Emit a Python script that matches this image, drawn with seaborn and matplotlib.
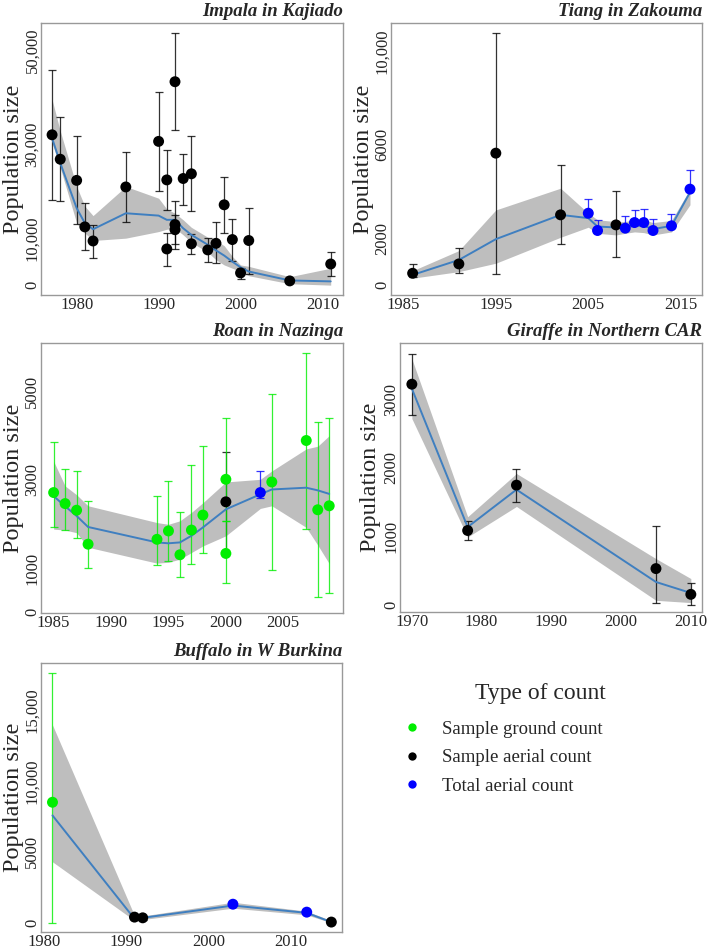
import numpy as np
import pandas as pd
import seaborn as sns
import matplotlib
matplotlib.use("Agg")
import matplotlib.pyplot as plt
from matplotlib.lines import Line2D

# ---- data ----
G, A, T = "Sample ground count", "Sample aerial count", "Total aerial count"

imp_year = [1977, 1978, 1980, 1981, 1982, 1986, 1990, 1991, 1991, 1992, 1992, 1992,
            1993, 1994, 1994, 1996, 1997, 1998, 1999, 2000, 2001, 2006, 2011]
imp_est = [32000, 26800, 22300, 12400, 9400, 20900, 30600, 22400, 7700, 43300, 12900, 11800,
           22700, 23700, 8800, 7500, 8900, 17100, 9700, 2600, 9500, 900, 4500]
imp_lo = [18200, 18000, 13100, 7400, 5800, 13400, 20100, 16100, 4100, 33100, 8700, 7700,
          17100, 15800, 6700, 4900, 4700, 11100, 5200, 1300, 2400, 600, 2000]
imp_hi = [45900, 35800, 31700, 17500, 12900, 28300, 41100, 28700, 11200, 53600, 18000, 15000,
          28000, 31700, 10900, 10000, 13400, 23000, 14100, 3600, 16400, 1200, 7000]
imp_type = [A] * 23
imp_fit_year = [1977, 1978, 1980, 1981, 1982, 1986, 1990, 1991, 1992, 1993, 1994, 1996,
                1997, 1998, 1999, 2000, 2001, 2006, 2011]
imp_fit = [31300, 26000, 16400, 13200, 11900, 15300, 14800, 13900, 13900, 12100, 10700, 8600,
           7400, 6300, 5000, 3800, 2900, 1000, 800]
imp_fit_lo = [30300, 25000, 13200, 11100, 9500, 10000, 11400, 11900, 12100, 10700, 9100, 7000,
              5400, 4300, 3600, 2900, 2000, 300, 0]
imp_fit_hi = [39500, 32800, 21000, 16800, 14800, 21000, 18500, 16200, 15300, 13900, 12300, 10200,
              9500, 8400, 6100, 4300, 4000, 1800, 3600]

tia_year = [1986, 1991, 1995, 2002, 2005, 2006, 2008, 2009, 2010, 2011, 2012, 2014, 2016]
tia_est = [500, 900, 5640, 3000, 3070, 2330, 2570, 2430, 2670, 2670, 2330, 2530, 4100]
tia_lo = [330, 530, 470, 1760, 3070, 2330, 1190, 2430, 2670, 2670, 2330, 2530, 4100]
tia_hi = [890, 1570, 10790, 5140, 3670, 2790, 4000, 2930, 3210, 3240, 2810, 3030, 4900]
tia_type = [A, A, A, A, T, T, A, T, T, T, T, T, T]
tia_fit_year = tia_year
tia_fit = [430, 1070, 1960, 3000, 2860, 2500, 2460, 2460, 2530, 2530, 2390, 2530, 3960]
tia_fit_lo = [290, 570, 930, 2040, 2470, 2210, 2140, 2210, 2270, 2240, 2140, 2270, 3430]
tia_fit_hi = [610, 1470, 3210, 4140, 3070, 2790, 2710, 2710, 2810, 2790, 2670, 2760, 4100]

roa_year = [1985, 1986, 1987, 1988, 1994, 1995, 1996, 1997, 1998, 2000, 2000, 2000,
            2003, 2004, 2007, 2008, 2009]
roa_est = [2710, 2460, 2310, 1540, 1650, 1840, 1300, 1860, 2200, 3010, 1330, 2500,
           2710, 2950, 3890, 2320, 2410]
roa_lo = [1930, 1860, 1680, 990, 1070, 1170, 790, 1080, 1330, 2070, 650, 1350,
          2580, 960, 1890, 340, 430]
roa_hi = [3850, 3250, 3200, 2520, 2630, 2970, 2280, 3330, 3760, 4410, 2070, 3630,
          3210, 4940, 5880, 4300, 4400]
roa_type = [G] * 11 + [A, T, G, G, G, G]
roa_fit_year = [1985, 1986, 1987, 1988, 1994, 1995, 1996, 1997, 1998, 2000, 2003, 2004,
                2007, 2008, 2009]
roa_fit = [2630, 2400, 2180, 1930, 1580, 1560, 1580, 1730, 1920, 2330, 2670, 2780,
           2820, 2760, 2680]
roa_fit_lo = [1880, 1860, 1800, 1470, 1110, 1130, 1200, 1350, 1500, 1730, 2350, 2410,
              1920, 1520, 1100]
roa_fit_hi = [3420, 2860, 2660, 2410, 2030, 1990, 2070, 2260, 2480, 2950, 3010, 3200,
              3700, 3760, 4000]

gir_year = [1970, 1978, 1985, 2005, 2010]
gir_est = [3220, 1090, 1750, 535, 160]
gir_lo = [2765, 950, 1500, 35, 10]
gir_hi = [3665, 1230, 1990, 1150, 325]
gir_type = [A] * 5
gir_fit_year = gir_year
gir_fit = [3155, 1140, 1685, 340, 180]
gir_fit_lo = [2720, 995, 1440, 73, 40]
gir_fit_hi = [3590, 1290, 1920, 680, 390]

buf_year = [1981, 1991, 1992, 2003, 2012, 2015]
buf_est = [8500, 400, 350, 1310, 750, 50]
buf_lo = [0, 250, 200, 1310, 750, 0]
buf_hi = [17640, 550, 500, 1310, 750, 100]
buf_type = [G, A, A, T, T, A]
buf_fit_year = buf_year
buf_fit = [7570, 280, 350, 1215, 700, 50]
buf_fit_lo = [4300, 160, 230, 1030, 560, 0]
buf_fit_hi = [13950, 510, 480, 1450, 820, 150]

palette = {G: "#00EE00", A: "#000000", T: "#0000FF"}

sns.set_style("white")
plt.rcParams["font.family"] = ["Liberation Serif", "DejaVu Serif"]

W, H = 709, 949
fig = plt.figure(figsize=(W / 100, H / 100), dpi=100)


def panel(box, title, year, est, lo, hi, kind, fyear, fit, flo, fhi,
          xlim, ylim, xticks, yticks, ylabels, lab_off=16.5):
    l, r, t, b = box
    ax = fig.add_axes([l / W, 1 - b / H, (r - l) / W, (b - t) / H])
    ax.fill_between(fyear, flo, fhi, color="#BEBEBE", lw=0, zorder=1)
    df = pd.DataFrame({"year": year, "est": est, "lo": lo, "hi": hi, "type": kind})
    for k, sub in df.groupby("type"):
        ax.errorbar(sub["year"], sub["est"],
                    yerr=[sub["est"] - sub["lo"], sub["hi"] - sub["est"]],
                    fmt="none", ecolor=palette[k], elinewidth=0.9, capsize=3.2,
                    capthick=0.9, alpha=0.8, zorder=2)
    sns.lineplot(x=fyear, y=fit, ax=ax, color="#3F7FC0", lw=1.4, zorder=3)
    sns.scatterplot(data=df, x="year", y="est", hue="type", palette=palette,
                    s=62, edgecolor="none", legend=False, ax=ax, zorder=4)
    ax.set_xlim(xlim)
    ax.set_ylim(ylim)
    ax.set_xticks(xticks)
    ax.set_xticklabels([str(x) for x in xticks])
    ax.set_yticks(yticks)
    ax.set_yticklabels(ylabels, rotation=90, va="center")
    ax.tick_params(length=0, labelsize=12, pad=1.5)
    ax.tick_params(axis="y", pad=0.5)
    ax.set_xlabel("")
    ax.set_ylabel("Population size", fontsize=17.5)
    ax.yaxis.set_label_coords(-lab_off / (r - l), 0.5)
    ax.set_title(title, loc="right", fontsize=13.5, fontweight="bold",
                 fontstyle="italic", pad=5)
    for sp in ax.spines.values():
        sp.set_color("#999999")
        sp.set_linewidth(1)
    return ax


panel((41, 343, 23, 295), "Impala in Kajiado", imp_year, imp_est, imp_lo, imp_hi, imp_type,
      imp_fit_year, imp_fit, imp_fit_lo, imp_fit_hi,
      (1975.65, 2012.5), (-2100, 55800), [1980, 1990, 2000, 2010],
      [0, 10000, 30000, 50000], ["0", "10,000", "30,000", "50,000"])
panel((391, 702, 23, 295), "Tiang in Zakouma", tia_year, tia_est, tia_lo, tia_hi, tia_type,
      tia_fit_year, tia_fit, tia_fit_lo, tia_fit_hi,
      (1983.66, 2017.3), (-430, 11210), [1985, 1995, 2005, 2015],
      [0, 2000, 6000, 10000], ["0", "2000", "6000", "10,000"])
panel((41, 343, 343, 613), "Roan in Nazinga", roa_year, roa_est, roa_lo, roa_hi, roa_type,
      roa_fit_year, roa_fit, roa_fit_lo, roa_fit_hi,
      (1983.9, 2010.2), (-20, 6100), [1985, 1990, 1995, 2000, 2005],
      [0, 1000, 3000, 5000], ["0", "1000", "3000", "5000"])
panel((400, 702, 343, 612), "Giraffe in Northern CAR", gir_year, gir_est, gir_lo, gir_hi, gir_type,
      gir_fit_year, gir_fit, gir_fit_lo, gir_fit_hi,
      (1968.3, 2011.6), (-97, 3820), [1970, 1980, 1990, 2000, 2010],
      [0, 1000, 2000, 3000], ["0", "1000", "2000", "3000"], lab_off=19)
panel((41, 342, 663, 932), "Buffalo in W Burkina", buf_year, buf_est, buf_lo, buf_hi, buf_type,
      buf_fit_year, buf_fit, buf_fit_lo, buf_fit_hi,
      (1979.6, 2016.3), (-650, 18320), [1980, 1990, 2000, 2010],
      [0, 5000, 10000, 15000], ["0", "5000", "10,000", "15,000"])

# legend
fig.text(540 / W, 1 - 693 / H, "Type of count", ha="center", va="center", fontsize=17)
handles = [Line2D([], [], ls="none", marker="o", markersize=6, markeredgewidth=0,
                  color=palette[k]) for k in (G, A, T)]
fig.legend(handles, [G, A, T], loc="upper left",
           bbox_to_anchor=(384 / W, 1 - 704 / H), frameon=False, fontsize=13.5,
           handlelength=1.2, handletextpad=1.0, labelspacing=0.6)

fig.savefig("out.png", dpi=100)
